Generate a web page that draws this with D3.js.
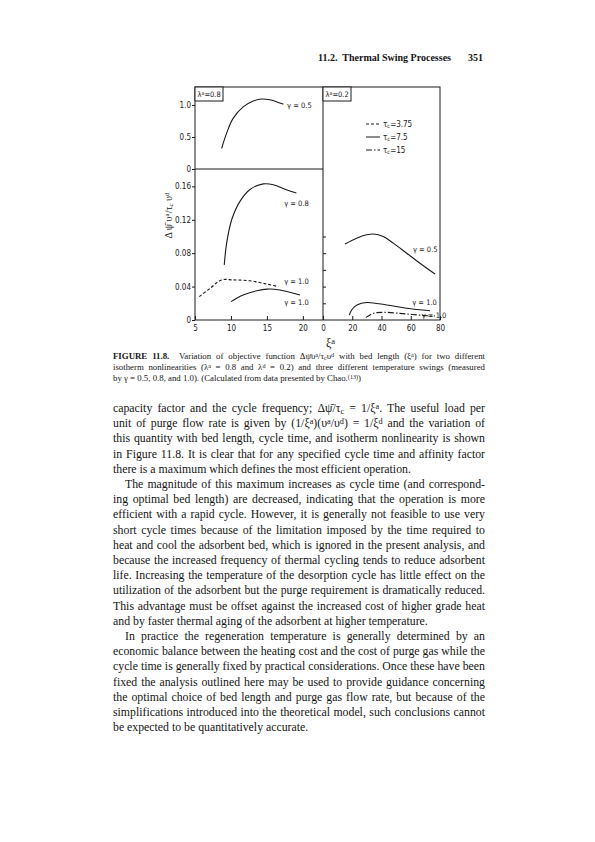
<!DOCTYPE html>
<html>
<head>
<meta charset="utf-8">
<script src="https://cdn.jsdelivr.net/npm/d3@7"></script>
<style>
  body { margin: 0; background: #fff; }
  svg { display: block; }
  .serif { font-family: "Liberation Serif", "DejaVu Serif", serif; fill: #151515; }
  .lab { font-family: "Liberation Sans Narrow", "DejaVu Sans Condensed", "Liberation Sans", sans-serif; fill: #1a1a1a; }
  .axis path, .axis line { stroke: #1a1a1a; stroke-width: 1; }
  .axis text { font-family: "Liberation Sans Narrow", "DejaVu Sans Condensed", "Liberation Sans", sans-serif; font-size: 8px; fill: #1a1a1a; }
  .curve { fill: none; stroke: #1a1a1a; stroke-width: 1.1; }
</style>
</head>
<body>
<svg id="page" width="595" height="842"></svg>
<script>
// ---- data ----
// left panels: bed length xi^a (5..22.8), lambda^a = 0.8
const g05LeftX = [8.7, 9.4, 10.3, 11.7, 13.1, 14.0, 15.4, 16.8, 17.3];
const g05LeftY = [0.32, 0.56, 0.79, 0.97, 1.06, 1.09, 1.08, 1.03, 1.01];

const g08LeftX = [9.07, 9.4, 10.1, 11.25, 12.6, 14.5, 15.9, 17.7, 19.1];
const g08LeftY = [0.066, 0.092, 0.120, 0.142, 0.156, 0.163, 0.162, 0.156, 0.152];

const g10DashLeftX = [5.6, 7.1, 8.7, 10.3, 12.6, 15.0, 16.6];
const g10DashLeftY = [0.028, 0.038, 0.048, 0.048, 0.047, 0.043, 0.040];

const g10SolidLeftX = [10.0, 11.7, 13.6, 15.0, 16.8, 19.6];
const g10SolidLeftY = [0.022, 0.030, 0.035, 0.037, 0.036, 0.030];

// right panel: bed length xi^a (0..80), lambda^a = 0.2
const g05RightX = [15.0, 23.0, 29.9, 34.4, 41.2, 48.1, 57.2, 66.3, 76.6];
const g05RightY = [0.091, 0.098, 0.102, 0.103, 0.100, 0.092, 0.080, 0.068, 0.055];

const g10SolidRightX = [18.0, 19.8, 23.2, 29.9, 43.6, 57.2, 73.2];
const g10SolidRightY = [0.006, 0.0126, 0.018, 0.021, 0.018, 0.014, 0.011];

const g10DotRightX = [29.4, 34.4, 41.2, 57.2, 70.9, 76.6];
const g10DotRightY = [0.0032, 0.008, 0.0092, 0.0072, 0.0051, 0.0048];

const topTicks = [0, 0.5, 1.0];
const topTickLabels = ["0", "0.5", "1.0"];
const lowTicks = [0, 0.04, 0.08, 0.12, 0.16];
const lowTickLabels = ["0", "0.04", "0.08", "0.12", "0.16"];
const rightTicks = [0.02, 0.04, 0.06, 0.08, 0.10];
const leftXTicks = [5, 10, 15, 20];
const rightXTicks = [0, 20, 40, 60, 80];

const legendLabels = ["3.75", "7.5", "15"];
const legendDash = ["3,2", null, "6,2,1.5,2"];

const curveLabels = [
  {panel: "top",   x: 17.8, y: 1.0,   text: "0.5"},
  {panel: "low",   x: 17.4, y: 0.14,  text: "0.8"},
  {panel: "low",   x: 17.4, y: 0.047, text: "1.0"},
  {panel: "low",   x: 17.4, y: 0.021, text: "1.0"},
  {panel: "right", x: 61.5, y: 0.085, text: "0.5"},
  {panel: "right", x: 61,   y: 0.021, text: "1.0"},
  {panel: "right", x: 67.5, y: 0.006, text: "1.0"}
];

const headerText = "11.2.  Thermal Swing Processes";
const pageNumber = "351";

const captionLines = [
  "*{FIGURE 11.8.}  Variation of objective function Δψ̄υ^{a}/τ_{c}υ^{d} with bed length (ξ^{a}) for two different",
  "isotherm nonlinearities (λ^{a} = 0.8 and λ^{d} = 0.2) and three different temperature swings (measured",
  "by γ = 0.5, 0.8, and 1.0). (Calculated from data presented by Chao.^{(13)})"
];

const bodyParagraphs = [
  [
    "capacity factor and the cycle frequency; Δψ̄/τ_{c} = 1/ξ^{a}. The useful load per",
    "unit of purge flow rate is given by (1/ξ^{a})(υ^{a}/υ^{d}) = 1/ξ^{d} and the variation of",
    "this quantity with bed length, cycle time, and isotherm nonlinearity is shown",
    "in Figure 11.8. It is clear that for any specified cycle time and affinity factor",
    "there is a maximum which defines the most efficient operation."
  ],
  [
    "The magnitude of this maximum increases as cycle time (and correspond-",
    "ing optimal bed length) are decreased, indicating that the operation is more",
    "efficient with a rapid cycle. However, it is generally not feasible to use very",
    "short cycle times because of the limitation imposed by the time required to",
    "heat and cool the adsorbent bed, which is ignored in the present analysis, and",
    "because the increased frequency of thermal cycling tends to reduce adsorbent",
    "life. Increasing the temperature of the desorption cycle has little effect on the",
    "utilization of the adsorbent but the purge requirement is dramatically reduced.",
    "This advantage must be offset against the increased cost of higher grade heat",
    "and by faster thermal aging of the adsorbent at higher temperature."
  ],
  [
    "In practice the regeneration temperature is generally determined by an",
    "economic balance between the heating cost and the cost of purge gas while the",
    "cycle time is generally fixed by practical considerations. Once these have been",
    "fixed the analysis outlined here may be used to provide guidance concerning",
    "the optimal choice of bed length and purge gas flow rate, but because of the",
    "simplifications introduced into the theoretical model, such conclusions cannot",
    "be expected to be quantitatively accurate."
  ]
];

// ---- layout ----
const svg = d3.select("#page");
const frame = {l: 195, m: 323, r: 440, t: 87, d: 169, b: 320};
const textLeft = 113, textRight = 485;

const xLeft = d3.scaleLinear().domain([5, 22.8]).range([frame.l, frame.m]);
const xRight = d3.scaleLinear().domain([0, 80]).range([frame.m, frame.r]);
const yTop = d3.scaleLinear().domain([0, 1.28]).range([frame.d, frame.t]);
const yLow = d3.scaleLinear().domain([0, 0.1808]).range([frame.b, frame.d]);
const yRight = d3.scaleLinear().domain([0, 0.279]).range([frame.b, frame.t]);
const scales = {
  top: [xLeft, yTop],
  low: [xLeft, yLow],
  right: [xRight, yRight]
};

// rich text: ^{sup} _{sub} *{bold}
function richText(sel, str) {
  const parts = str.split(/(\^\{[^}]*\}|_\{[^}]*\}|\*\{[^}]*\})/).filter(s => s.length);
  parts.forEach(p => {
    if (p.startsWith("^{")) {
      sel.append("tspan").attr("font-size", "70%").attr("baseline-shift", "40%").text(p.slice(2, -1));
    } else if (p.startsWith("_{")) {
      sel.append("tspan").attr("font-size", "70%").attr("baseline-shift", "-20%").text(p.slice(2, -1));
    } else if (p.startsWith("*{")) {
      sel.append("tspan").attr("font-weight", "bold").text(p.slice(2, -1));
    } else {
      sel.append("tspan").text(p);
    }
  });
  return sel;
}

function justify(sel, width) {
  const node = sel.node();
  const len = node.getComputedTextLength();
  const spaces = (node.textContent.match(/ /g) || []).length;
  if (spaces) sel.attr("word-spacing", (width - len) / spaces);
}

// ---- header ----
svg.append("text").attr("class", "serif")
  .attr("x", 318).attr("y", 61)
  .attr("font-size", 10).attr("font-weight", "bold")
  .attr("xml:space", "preserve")
  .text(headerText);
svg.append("text").attr("class", "serif")
  .attr("x", 483).attr("y", 61).attr("text-anchor", "end")
  .attr("font-size", 10).attr("font-weight", "bold")
  .text(pageNumber);

// ---- chart ----
const chart = svg.append("g");

// frame lines
chart.append("rect")
  .attr("x", frame.l).attr("y", frame.t)
  .attr("width", frame.r - frame.l).attr("height", frame.b - frame.t)
  .attr("fill", "none").attr("stroke", "#1a1a1a").attr("stroke-width", 1);
chart.append("line")
  .attr("x1", frame.m).attr("x2", frame.m).attr("y1", frame.t).attr("y2", frame.b)
  .attr("stroke", "#1a1a1a").attr("stroke-width", 1);
chart.append("line")
  .attr("x1", frame.l).attr("x2", frame.m).attr("y1", frame.d).attr("y2", frame.d)
  .attr("stroke", "#1a1a1a").attr("stroke-width", 1);

// y axes
chart.append("g").attr("class", "axis")
  .attr("transform", `translate(${frame.l},0)`)
  .call(d3.axisLeft(yTop).tickValues(topTicks).tickSize(3).tickPadding(1)
    .tickFormat((d, i) => topTickLabels[i]))
  .call(g => g.select(".domain").remove());
chart.append("g").attr("class", "axis")
  .attr("transform", `translate(${frame.l},0)`)
  .call(d3.axisLeft(yLow).tickValues(lowTicks).tickSize(3).tickPadding(1)
    .tickFormat((d, i) => lowTickLabels[i]))
  .call(g => g.select(".domain").remove());
chart.append("g").attr("class", "axis")
  .attr("transform", `translate(${frame.m},0)`)
  .call(d3.axisRight(yRight).tickValues(rightTicks).tickSize(3).tickFormat(""))
  .call(g => g.select(".domain").remove());

// x axes
chart.append("g").attr("class", "axis")
  .attr("transform", `translate(0,${frame.b})`)
  .call(d3.axisBottom(xLeft).tickValues(leftXTicks).tickSize(-4).tickPadding(5).tickFormat(d3.format("d")))
  .call(g => g.select(".domain").remove());
chart.append("g").attr("class", "axis")
  .attr("transform", `translate(0,${frame.b})`)
  .call(d3.axisBottom(xRight).tickValues(rightXTicks).tickSize(-4).tickPadding(5).tickFormat(d3.format("d")))
  .call(g => g.select(".domain").remove());

// curves
const series = [
  {panel: "top",   xs: g05LeftX,      ys: g05LeftY,      dash: null},
  {panel: "low",   xs: g08LeftX,      ys: g08LeftY,      dash: null},
  {panel: "low",   xs: g10DashLeftX,  ys: g10DashLeftY,  dash: legendDash[0]},
  {panel: "low",   xs: g10SolidLeftX, ys: g10SolidLeftY, dash: null},
  {panel: "right", xs: g05RightX,     ys: g05RightY,     dash: null},
  {panel: "right", xs: g10SolidRightX, ys: g10SolidRightY, dash: null},
  {panel: "right", xs: g10DotRightX,  ys: g10DotRightY,  dash: legendDash[2]}
];

chart.selectAll(".curve")
  .data(series)
  .join("path")
  .attr("class", "curve")
  .attr("stroke-dasharray", d => d.dash)
  .attr("d", d => {
    const [sx, sy] = scales[d.panel];
    return d3.line().curve(d3.curveCatmullRom.alpha(0.5))
      .x(p => sx(p[0])).y(p => sy(p[1]))(d3.zip(d.xs, d.ys));
  });

// curve labels (gamma)
chart.selectAll(".glabel")
  .data(curveLabels)
  .join("text")
  .attr("class", "lab glabel")
  .attr("font-size", 7.5)
  .attr("x", d => scales[d.panel][0](d.x))
  .attr("y", d => scales[d.panel][1](d.y) + 3)
  .text(d => `γ = ${d.text}`);

// lambda boxes
[["0.8", frame.l], ["0.2", frame.m]].forEach(([v, x0]) => {
  chart.append("rect")
    .attr("x", x0).attr("y", frame.t).attr("width", 28).attr("height", 14)
    .attr("fill", "#fff").attr("stroke", "#1a1a1a").attr("stroke-width", 1);
  richText(chart.append("text").attr("class", "lab")
    .attr("x", x0 + 2.5).attr("y", frame.t + 10).attr("font-size", 7.5), `λ^{a}=${v}`);
});

// legend
const legend = chart.append("g").attr("transform", "translate(366,124)");
legendLabels.forEach((lbl, i) => {
  legend.append("line")
    .attr("x1", 0).attr("x2", 14).attr("y1", i * 13).attr("y2", i * 13)
    .attr("stroke", "#1a1a1a").attr("stroke-width", 1)
    .attr("stroke-dasharray", legendDash[i]);
  richText(legend.append("text").attr("class", "lab")
    .attr("x", 17).attr("y", i * 13 + 3).attr("font-size", 8), `τ_{c}=${lbl}`);
});

// axis titles
richText(chart.append("text").attr("class", "serif")
  .attr("font-size", 10)
  .attr("text-anchor", "middle")
  .attr("transform", `translate(172,${(frame.t + frame.b) / 2 + 12}) rotate(-90)`),
  "Δ ψ̄ υ^{a}/τ_{c} υ^{d}");
richText(chart.append("text").attr("class", "serif")
  .attr("font-size", 12)
  .attr("x", 326).attr("y", 347), "ξ^{a}");

// ---- caption ----
captionLines.forEach((line, i) => {
  const t = svg.append("text").attr("class", "serif")
    .attr("x", textLeft).attr("y", 359 + i * 11)
    .attr("font-size", 8.8).attr("xml:space", "preserve");
  richText(t, line);
  if (i < captionLines.length - 1) justify(t, textRight - textLeft);
});

// ---- body text ----
let row = 0;
bodyParagraphs.forEach((para, pi) => {
  para.forEach((line, li) => {
    const indent = (li === 0 && pi > 0) ? 12 : 0;
    const t = svg.append("text").attr("class", "serif")
      .attr("x", textLeft + indent).attr("y", 412 + row * 15.2)
      .attr("font-size", 11.8);
    richText(t, line);
    if (li < para.length - 1) justify(t, textRight - textLeft - indent);
    row++;
  });
});
</script>
</body>
</html>
